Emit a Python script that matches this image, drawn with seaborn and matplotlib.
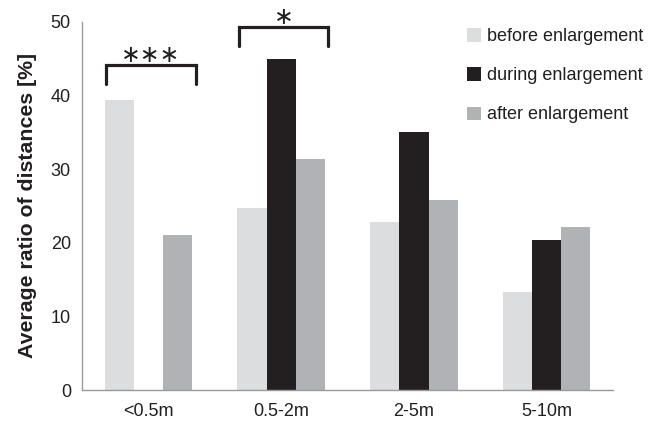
import numpy as np
import pandas as pd
import matplotlib
matplotlib.use('Agg')
import matplotlib.pyplot as plt
import seaborn as sns

# values
distances = ['<0.5m', '0.5-2m', '2-5m', '5-10m']
phases = ['before enlargement', 'during enlargement', 'after enlargement']
before = [39.4, 24.7, 22.8, 13.3]
during = [np.nan, 44.9, 35.0, 20.4]
after = [21.0, 31.4, 25.8, 22.1]

# significance brackets: group index, stars, bracket top (%)
sig_groups = [0, 1]
sig_labels = ['\u2217\u2217\u2217', '\u2217']
sig_tops = [44.1, 49.3]

colors = ['#dcdddf', '#231f20', '#b1b2b5']
ink = '#231f20'

df = pd.DataFrame({
    'distance': distances * 3,
    'phase': [p for p in phases for _ in distances],
    'ratio': before + during + after,
})

sns.set_style('white')
plt.rcParams['font.family'] = ['Liberation Sans', 'DejaVu Sans']

fig = plt.figure(figsize=(6.51, 4.22), dpi=100)
ax = fig.add_axes([0.126, 0.0758, 0.8157, 0.8727])

sns.barplot(data=df, x='distance', y='ratio', hue='phase', order=distances,
            hue_order=phases, palette=colors, width=0.66, gap=0,
            errorbar=None, linewidth=0, saturation=1, ax=ax)

ax.set_ylim(0, 50)
ax.set_xlim(-0.5, 3.5)
ax.set_yticks([0, 10, 20, 30, 40, 50])
ax.set_xlabel('')
ax.set_ylabel('Average ratio of distances [%]', fontsize=15.3,
              fontweight='bold', color=ink, labelpad=10)

for s in ['top', 'right']:
    ax.spines[s].set_visible(False)
for s in ['left', 'bottom']:
    ax.spines[s].set_color('#9a9a9a')
    ax.spines[s].set_linewidth(1.0)

ax.tick_params(axis='y', length=5, width=1, color='#9a9a9a', labelsize=13,
               labelcolor=ink, pad=3)
ax.tick_params(axis='x', which='major', length=0, labelsize=13,
               labelcolor=ink, pad=9)
ax.set_xticks(np.arange(-0.5, 4, 1), minor=True)
ax.tick_params(axis='x', which='minor', length=6, width=1, color='#9a9a9a')

# significance brackets
for g, lab, top in zip(sig_groups, sig_labels, sig_tops):
    x0, x1 = g - 0.32, g + 0.355
    ax.plot([x0, x0, x1, x1], [top - 2.6, top, top, top - 2.6], color=ink,
            lw=2.3, solid_joinstyle='miter', clip_on=False)
    ax.text((x0 + x1) / 2, top + 1.4, lab, ha='center', va='center',
            fontsize=17, color=ink, family='DejaVu Sans', clip_on=False)

leg = ax.legend(loc='upper left', bbox_to_anchor=(0.725, 0.982), frameon=False,
                fontsize=13, handlelength=0.75, handleheight=0.75,
                handletextpad=0.35, labelspacing=1.22, borderpad=0,
                borderaxespad=0)
for t in leg.get_texts():
    t.set_color(ink)

fig.savefig('out.png', dpi=100)
